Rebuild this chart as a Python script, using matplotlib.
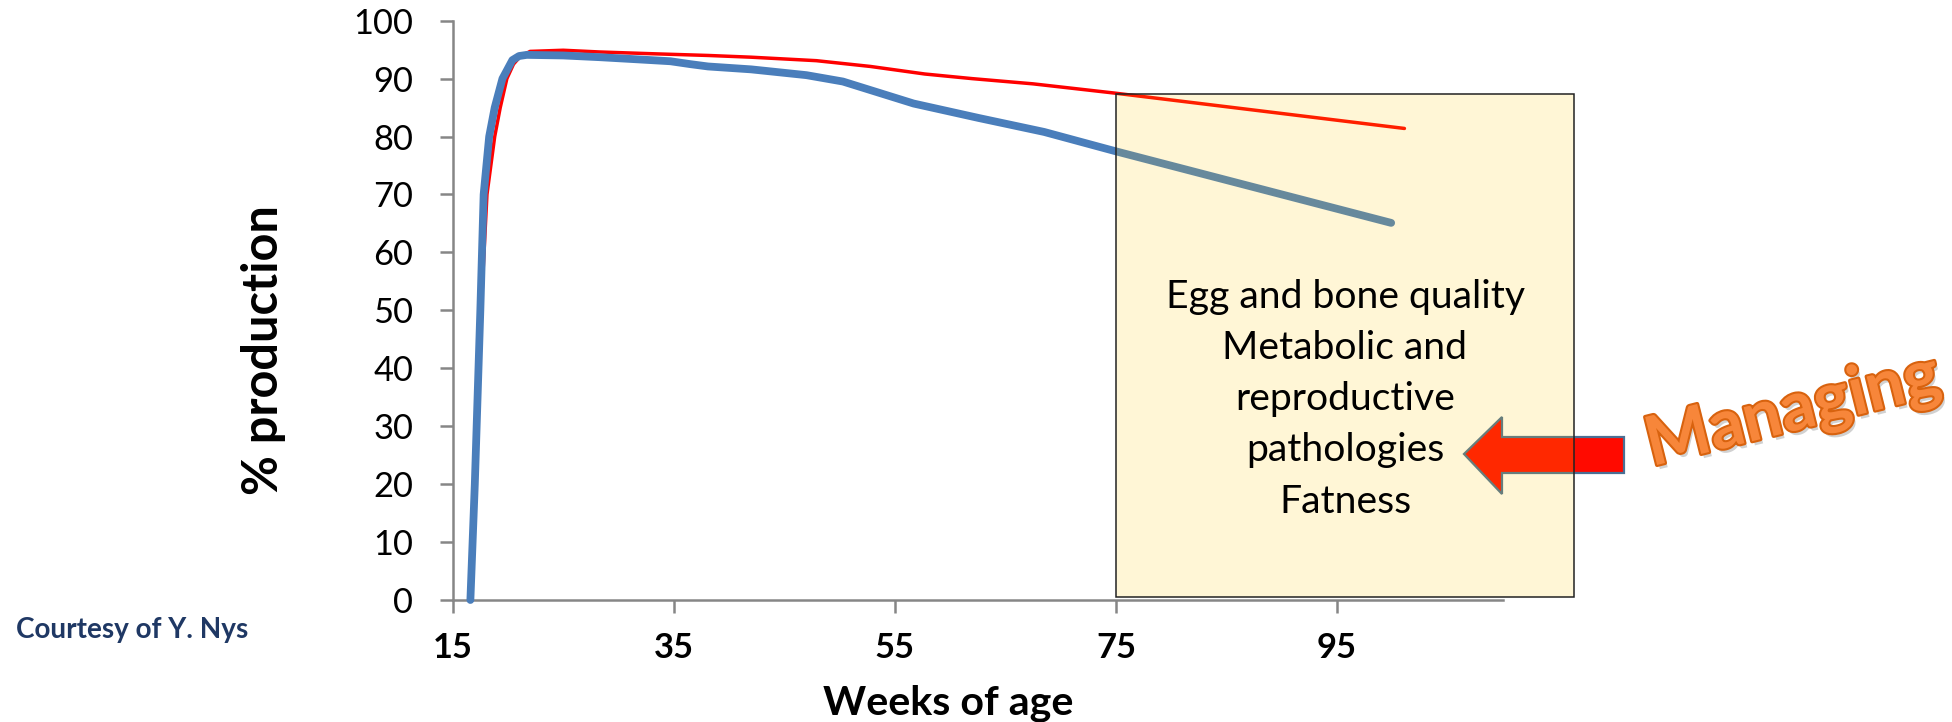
import matplotlib
matplotlib.use('Agg')
import matplotlib.pyplot as plt
from matplotlib.patches import Rectangle, Polygon
import matplotlib.patheffects as pe

# ---------------- data ----------------
weeks_blue = [16.6, 17.0, 17.5, 17.8, 18.3, 18.8, 19.5, 20.4, 21.0, 21.7, 25.0, 28.3,
              32.0, 34.7, 36.5, 38.1, 42.0, 47.0, 50.3, 53.5, 56.7, 62.6, 68.5, 74.9, 99.9]
prod_blue = [0, 20, 50, 70, 80, 85, 90, 93.2, 93.9, 94.1, 94.0, 93.7,
             93.3, 93.0, 92.5, 92.1, 91.6, 90.6, 89.5, 87.6, 85.7, 83.2, 80.8, 77.5, 65.1]

weeks_red = [16.6, 17.2, 17.7, 18.1, 18.8, 19.3, 19.9, 20.5, 21.1, 22.0, 25.0, 28.3,
             33.0, 38.1, 42.0, 47.9, 52.8, 57.7, 62.0, 67.5, 74.9, 101.1]
prod_red = [0, 30, 55, 70, 80, 85, 90, 92.5, 93.8, 94.7, 94.9, 94.6,
            94.3, 94.0, 93.7, 93.1, 92.1, 90.8, 90.0, 89.1, 87.5, 81.4]

x_ticks = [15, 35, 55, 75, 95]
y_ticks = [0, 10, 20, 30, 40, 50, 60, 70, 80, 90, 100]
x_label = "Weeks of age"
y_label = "% production"
box_lines = ["Egg and bone quality", "Metabolic and", "reproductive",
             "pathologies", "Fatness"]
credit = "Courtesy of Y. Nys"
arrow_word = "Managing"

# ---------------- figure ----------------
W, H = 1952, 722
DPI = 100
plt.rcParams['font.family'] = ['Lato', 'DejaVu Sans']
fig = plt.figure(figsize=(W / DPI, H / DPI), dpi=DPI)
fig.patch.set_facecolor('white')


def P(x, y):
    return (x / W, 1 - y / H)


ax_l, ax_r, ax_t, ax_b = 452.7, 1502.8, 20.7, 600.0
ax = fig.add_axes([ax_l / W, 1 - ax_b / H, (ax_r - ax_l) / W, (ax_b - ax_t) / H])

renderer = fig.canvas.get_renderer()


def fit(text, target, **kw):
    t = fig.text(0, 0, text, fontsize=20, **kw)
    w = t.get_window_extent(renderer).width
    t.remove()
    return 20 * target / w


fs_y = fit('90', 40)
fs_x = fit('55', 40, fontweight='bold')
fs_ytitle = fit(y_label, 290, fontweight='bold')
fs_xtitle = fit(x_label, 250, fontweight='bold')
fs_credit = fit(credit, 233, fontweight='bold')
fs_box = fit(box_lines[0], 360)
fs_man = fit(arrow_word, 300, fontweight='bold')

axis_grey = '#868686'

ax.plot(weeks_red, prod_red, color='#FF0000', lw=2.5, solid_capstyle='round',
        solid_joinstyle='round', zorder=3, clip_on=False)
ax.plot(weeks_blue, prod_blue, color='#4A7EBB', lw=5.6, solid_capstyle='round',
        solid_joinstyle='round', zorder=4, clip_on=False)

ax.set_xlim(15, 110)
ax.set_ylim(0, 100)
ax.set_xticks(x_ticks)
ax.set_xticklabels([str(v) for v in x_ticks], fontweight='bold', fontsize=fs_x)
ax.set_yticks(y_ticks)
ax.set_yticklabels([str(v) for v in y_ticks], fontsize=fs_y)
ax.tick_params(axis='x', length=9, width=1.8, color=axis_grey, pad=14, direction='out')
ax.tick_params(axis='y', length=9.4, width=1.8, color=axis_grey, pad=19, direction='out')
for s in ['top', 'right']:
    ax.spines[s].set_visible(False)
for s in ['left', 'bottom']:
    ax.spines[s].set_color(axis_grey)
    ax.spines[s].set_linewidth(1.8)
ax.set_facecolor('none')

# axis titles
fig.text(*P(948, 714), x_label, fontsize=fs_xtitle, fontweight='bold',
         ha='center', va='baseline')
fig.text(*P(278, 350), y_label, fontsize=fs_ytitle, fontweight='bold', rotation=90,
         rotation_mode='anchor', ha='center', va='baseline')

# credit
fig.text(*P(16, 638), credit, fontsize=fs_credit, fontweight='bold', color='#1F3864',
         ha='left', va='baseline')

# block arrow (pointing left)
arrow_pts = [(1464, 454), (1502, 417), (1502, 437), (1624, 437),
             (1624, 473), (1502, 473), (1502, 494)]
arrow = Polygon([P(x, y) for x, y in arrow_pts], closed=True, transform=fig.transFigure,
                facecolor='#FF0A00', edgecolor='#4A6F94', lw=1.6, zorder=1)
fig.patches.append(arrow)

# translucent box over the late-production region
bx0, by0, bx1, by1 = 1116, 94, 1574, 597
(fx0, fy1), (fx1, fy0) = P(bx0, by0), P(bx1, by1)
box = Rectangle((fx0, fy0), fx1 - fx0, fy1 - fy0, transform=fig.transFigure,
                facecolor=(1.0, 0.78, 0.0, 0.16), edgecolor='#222222', lw=1.1, zorder=2)
fig.patches.append(box)

baselines = [308, 359, 410.5, 461.5, 513]
for line, yb in zip(box_lines, baselines):
    fig.text(*P((bx0 + bx1) / 2, yb), line, fontsize=fs_box, color='black',
             ha='center', va='baseline', zorder=5)

# "Managing" word-art
fig.text(*P(1793, 412), arrow_word, fontsize=fs_man, fontweight='bold', color='#F7863A',
         rotation=14, rotation_mode='anchor', ha='center', va='center', zorder=5,
         path_effects=[pe.SimplePatchShadow(offset=(2, -3), shadow_rgbFace='#999999', alpha=0.45),
                       pe.Stroke(linewidth=3, foreground='#D8620E'),
                       pe.Normal()])

fig.savefig('out.png', dpi=DPI, facecolor='white')
